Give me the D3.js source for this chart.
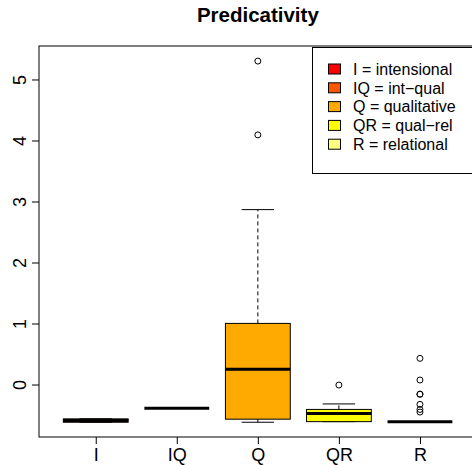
<!DOCTYPE html>
<html><head><meta charset="utf-8">
<script src="https://cdn.jsdelivr.net/npm/d3@7"></script>
<style>body{margin:0;background:#fff;} svg{display:block;font-family:"Liberation Sans",Arial,sans-serif;}</style>
</head><body>
<script>
const categories = ["I","IQ","Q","QR","R"];
const lowerWhisker = [-0.61, -0.38, -0.61, -0.60, -0.60];
const q1Values     = [-0.61, -0.38, -0.56, -0.60, -0.60];
const medians      = [-0.58, -0.38, 0.26, -0.465, -0.60];
const q3Values     = [-0.555, -0.38, 1.01, -0.40, -0.60];
const upperWhisker = [-0.555, -0.38, 2.875, -0.31, -0.60];
const outliers = [[], [], [4.10, 5.31], [0.0], [0.437, 0.082, -0.15, -0.15, -0.317, -0.40, -0.443]];
const fillColors = ["#FF0000","#FF5500","#FFAA00","#FFFF00","#FFFF80"];
const legendLabels = ["I = intensional","IQ = int\u2212qual","Q = qualitative","QR = qual\u2212rel","R = relational"];
const yTicks = [0,1,2,3,4,5];
const title = "Predicativity";

const W = 472, H = 465;
const L = 39, T = 46, B = 437, R = 476.7;
const FS = 18;
const svg = d3.select("body").append("svg").attr("width", W).attr("height", H);

const x = d3.scaleLinear().domain([0.3, 5.7]).range([L, R]);
const y = d3.scaleLinear().domain([-0.852, 5.557]).range([B, T]);
const boxW = x(0.8) - x(0);

// title
svg.append("text").attr("x", (L + R) / 2).attr("y", 22).attr("text-anchor", "middle")
  .attr("font-weight", "bold").attr("font-size", 20.5).text(title);

// frame
svg.append("rect").attr("x", L).attr("y", T).attr("width", R - L).attr("height", B - T)
  .attr("fill", "none").attr("stroke", "#000").attr("stroke-width", 1);

// y axis
const yAxis = svg.append("g").attr("transform", `translate(${L},0)`)
  .call(d3.axisLeft(y).tickValues(yTicks).tickSize(7).tickFormat(d3.format("d")));
yAxis.attr("font-size", FS).attr("font-family", "Liberation Sans, Arial, sans-serif");
yAxis.select(".domain").remove();
yAxis.selectAll(".tick").attr("transform", null);
yAxis.selectAll(".tick line").attr("stroke", "#000").attr("x1", 0).attr("x2", -7)
  .attr("y1", d => y(d)).attr("y2", d => y(d));
yAxis.selectAll(".tick text").attr("fill", "#000").attr("font-size", FS)
  .attr("text-anchor", "middle").attr("dy", 0).attr("x", 0).attr("y", 0)
  .attr("transform", d => `translate(-13,${y(d)}) rotate(-90)`);

// x axis
const xAxis = svg.append("g").attr("transform", `translate(0,${B})`)
  .call(d3.axisBottom(x).tickValues([1,2,3,4,5]).tickSize(7).tickFormat((d, i) => categories[i]));
xAxis.attr("font-size", FS).attr("font-family", "Liberation Sans, Arial, sans-serif");
xAxis.select(".domain").remove();
xAxis.selectAll("line").attr("stroke", "#000");
xAxis.selectAll("text").attr("fill", "#000").attr("font-size", FS).attr("dy", 0).attr("y", 24);

// boxes
categories.forEach((c, i) => {
  const cx = x(i + 1);
  const g = svg.append("g");
  g.append("line").attr("x1", cx).attr("x2", cx).attr("y1", y(q3Values[i])).attr("y2", y(upperWhisker[i]))
    .attr("stroke", "#000").attr("stroke-dasharray", "4,3");
  g.append("line").attr("x1", cx).attr("x2", cx).attr("y1", y(q1Values[i])).attr("y2", y(lowerWhisker[i]))
    .attr("stroke", "#000").attr("stroke-dasharray", "4,3");
  [upperWhisker[i], lowerWhisker[i]].forEach(v => {
    g.append("line").attr("x1", cx - boxW / 4).attr("x2", cx + boxW / 4).attr("y1", y(v)).attr("y2", y(v))
      .attr("stroke", "#000");
  });
  g.append("rect").attr("x", cx - boxW / 2).attr("width", boxW)
    .attr("y", y(q3Values[i])).attr("height", Math.max(0, y(q1Values[i]) - y(q3Values[i])))
    .attr("fill", fillColors[i]).attr("stroke", "#000");
  g.append("line").attr("x1", cx - boxW / 2).attr("x2", cx + boxW / 2).attr("y1", y(medians[i])).attr("y2", y(medians[i]))
    .attr("stroke", "#000").attr("stroke-width", 3);
  outliers[i].forEach(v => {
    g.append("circle").attr("cx", cx).attr("cy", y(v)).attr("r", 3)
      .attr("fill", "none").attr("stroke", "#000").attr("stroke-width", 1);
  });
});

// legend
const lg = svg.append("g");
lg.append("rect").attr("x", 312.5).attr("y", 47.5).attr("width", 180).attr("height", 126)
  .attr("fill", "#fff").attr("stroke", "#000");
legendLabels.forEach((t, i) => {
  const yy = 69 + i * 18.8;
  lg.append("rect").attr("x", 328.5).attr("y", yy - 5).attr("width", 12).attr("height", 10)
    .attr("fill", fillColors[i]).attr("stroke", "#000");
  lg.append("text").attr("x", 353).attr("y", yy + 5.8).attr("font-size", 16).text(t);
});
</script>
</body></html>
